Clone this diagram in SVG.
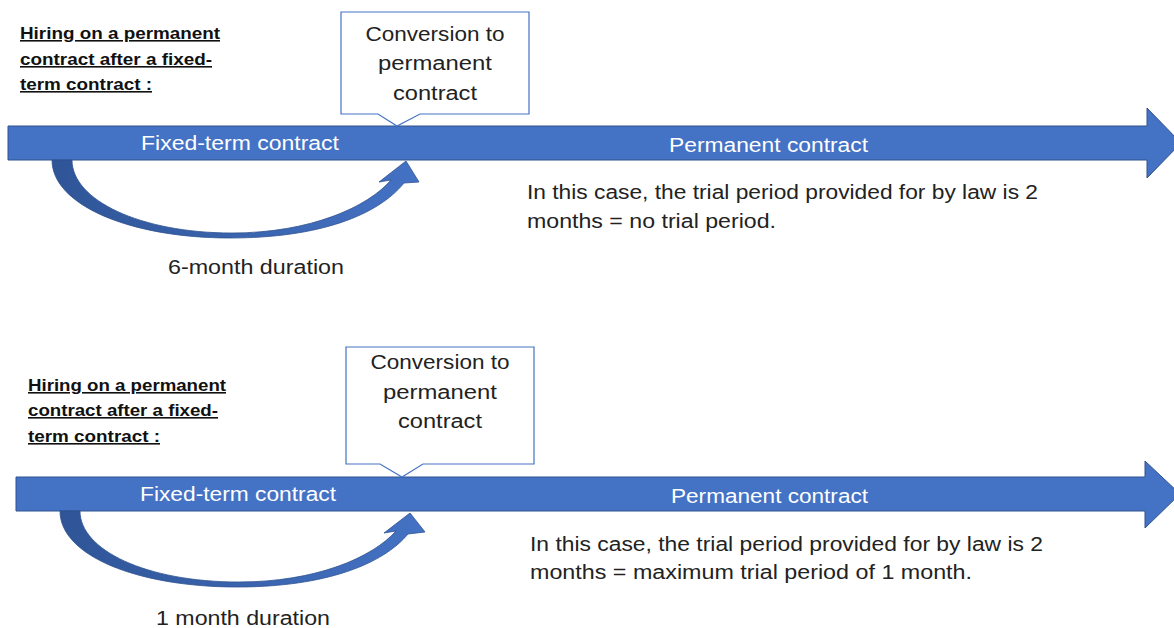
<svg xmlns="http://www.w3.org/2000/svg" width="1174" height="628" viewBox="0 0 1174 628">
<style>
.arrow{fill:#4472C4;stroke:#2F528F;stroke-width:1}
.curve{fill:url(#cg);stroke:#2F528F;stroke-width:0.8}
.call{fill:#fff;stroke:#4472C4;stroke-width:1.2}
.t{font-family:"Liberation Sans",Arial,sans-serif;font-size:20px;fill:#222}
.w{font-family:"Liberation Sans",Arial,sans-serif;font-size:20px;fill:#fff}
.h{font-family:"Liberation Sans",Arial,sans-serif;font-size:16px;font-weight:bold;fill:#111;text-decoration:underline}
.c{text-anchor:middle}
</style>
<defs>
<linearGradient id="cg" x1="0" y1="0" x2="1" y2="0">
<stop offset="0" stop-color="#2F5597"/>
<stop offset="1" stop-color="#4472C4"/>
</linearGradient>
</defs>
<rect width="1174" height="628" fill="#fff"/>

<g id="connectors">
<path class="arrow" d="M8,126 H1147 V108 L1181,143 L1147,178 V160 H8 Z"/>
<path class="curve" d="M52,160 C52,205 130,238 230,238 C320,238 378,215 404,183 L419,182 L406,161 L379,182 L391,180 C368,207 310,233 232,233 C140,233 72,200 72,160 Z"/>
<path class="arrow" d="M16,477 H1145 V461 L1180,494 L1145,528 V511 H16 Z"/>
<path class="curve" d="M60,511 C60,556 138,587 237,587 C326,587 383,564 408,534 L425,532 L410,513 L384,533 L396,531 C372,558 315,582 239,582 C146,582 80,550 80,511 Z"/>
</g>

<g id="heading1">
<text class="h" x="20" y="39" textLength="200" lengthAdjust="spacingAndGlyphs">Hiring on a permanent</text>
<text class="h" x="20" y="65" textLength="192" lengthAdjust="spacingAndGlyphs">contract after a fixed-</text>
<text class="h" x="20" y="90" textLength="132" lengthAdjust="spacingAndGlyphs">term contract :</text>
</g>

<g id="callout1">
<path class="call" d="M341,12 H529 V114 H420 L397,126 L378,114 H341 Z"/>
<text class="t c" x="435" y="41" textLength="139" lengthAdjust="spacingAndGlyphs">Conversion to</text>
<text class="t c" x="435" y="70" textLength="114" lengthAdjust="spacingAndGlyphs">permanent</text>
<text class="t c" x="435" y="100" textLength="84" lengthAdjust="spacingAndGlyphs">contract</text>
</g>

<g id="fixed1"><text class="w" x="141" y="150" textLength="198" lengthAdjust="spacingAndGlyphs">Fixed-term contract</text></g>
<g id="perm1"><text class="w" x="669" y="152" textLength="199" lengthAdjust="spacingAndGlyphs">Permanent contract</text></g>
<g id="dur1"><text class="t" x="168" y="274" textLength="176" lengthAdjust="spacingAndGlyphs">6-month duration</text></g>
<g id="note1">
<text class="t" x="527" y="199" textLength="511" lengthAdjust="spacingAndGlyphs">In this case, the trial period provided for by law is 2</text>
<text class="t" x="527" y="228" textLength="249" lengthAdjust="spacingAndGlyphs">months = no trial period.</text>
</g>

<g id="heading2">
<text class="h" x="28" y="391" textLength="198" lengthAdjust="spacingAndGlyphs">Hiring on a permanent</text>
<text class="h" x="28" y="416" textLength="190" lengthAdjust="spacingAndGlyphs">contract after a fixed-</text>
<text class="h" x="28" y="442" textLength="132" lengthAdjust="spacingAndGlyphs">term contract :</text>
</g>

<g id="callout2">
<path class="call" d="M346,347 H534 V464 H423 L402,477 L380,464 H346 Z"/>
<text class="t c" x="440" y="369" textLength="139" lengthAdjust="spacingAndGlyphs">Conversion to</text>
<text class="t c" x="440" y="399" textLength="114" lengthAdjust="spacingAndGlyphs">permanent</text>
<text class="t c" x="440" y="428" textLength="84" lengthAdjust="spacingAndGlyphs">contract</text>
</g>

<g id="fixed2"><text class="w" x="140" y="501" textLength="196" lengthAdjust="spacingAndGlyphs">Fixed-term contract</text></g>
<g id="perm2"><text class="w" x="671" y="503" textLength="197" lengthAdjust="spacingAndGlyphs">Permanent contract</text></g>
<g id="dur2"><text class="t" x="156" y="625" textLength="174" lengthAdjust="spacingAndGlyphs">1 month duration</text></g>
<g id="note2">
<text class="t" x="530" y="551" textLength="513" lengthAdjust="spacingAndGlyphs">In this case, the trial period provided for by law is 2</text>
<text class="t" x="530" y="579" textLength="442" lengthAdjust="spacingAndGlyphs">months = maximum trial period of 1 month.</text>
</g>
</svg>
